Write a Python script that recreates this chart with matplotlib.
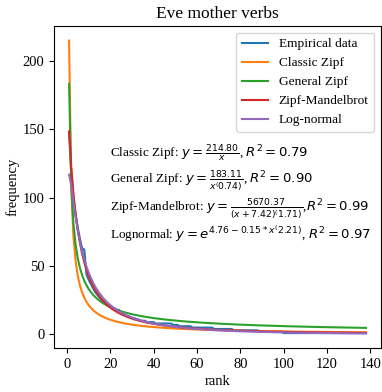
import numpy as np
import matplotlib
matplotlib.use("Agg")
import matplotlib.pyplot as plt

plt.rcParams['font.family'] = ['Liberation Serif', 'DejaVu Serif']
plt.rcParams['mathtext.fontset'] = 'dejavusans'

# Observed frequency by rank (Eve, mother's verb usage)
empirical = [
    148, 118, 100, 88, 78, 70, 63, 62, 44, 40,
    37, 34, 31, 29, 27, 25, 24, 22, 21, 20,
    19, 19, 18, 18, 16, 15, 14, 13, 13, 12,
    12, 11, 11, 10, 10, 10, 9, 9, 9, 9,
    8, 8, 8, 8, 8, 8, 8, 8, 7, 7,
    7, 6, 6, 6, 6, 6, 6, 5, 5, 5,
    5, 5, 5, 5, 5, 5, 5, 4, 4, 4,
    4, 4, 4, 4, 4, 4, 3, 3, 3, 3,
    3, 3, 3, 3, 3, 3, 3, 3, 2, 2,
    2, 2, 2, 2, 2, 2, 2, 2, 2,
] + [1] * 39

# Fitted model parameters
zipf_c = 214.80
gzipf_c, gzipf_a = 183.11, 0.74
zm_c, zm_b, zm_a = 5670.37, 7.42, 1.71
ln_a, ln_b, ln_c = 4.76, 0.15, 2.21
r2 = {"classic": 0.79, "general": 0.90, "zm": 0.99, "lognormal": 0.97}

xticks = [0, 20, 40, 60, 80, 100, 120, 140]
yticks = [0, 50, 100, 150, 200]

rank = np.arange(1, len(empirical) + 1)
classic = zipf_c / rank
general = gzipf_c / rank ** gzipf_a
mandelbrot = zm_c / (rank + zm_b) ** zm_a
lognormal = np.exp(ln_a - ln_b * np.log(rank) ** ln_c)

fig, ax = plt.subplots(figsize=(3.82, 3.92), dpi=100)
ax.plot(rank, empirical, label="Empirical data")
ax.plot(rank, classic, label="Classic Zipf")
ax.plot(rank, general, label="General Zipf")
ax.plot(rank, mandelbrot, label="Zipf-Mandelbrot")
ax.plot(rank, lognormal, label="Log-normal")

fs = 9.5
ax.text(20, 130, r"Classic Zipf: $y = \frac{%.2f}{x}$, $R^2 = %.2f$" % (zipf_c, r2["classic"]), fontsize=fs)
ax.text(20, 110, r"General Zipf: $y = \frac{%.2f}{x^(%.2f)}$, $R^2 = %.2f$" % (gzipf_c, gzipf_a, r2["general"]), fontsize=fs)
ax.text(20, 90, r"Zipf-Mandelbrot: $y = \frac{%.2f}{(x + %.2f)^(%.2f)}$,$R^2 = %.2f$" % (zm_c, zm_b, zm_a, r2["zm"]), fontsize=fs)
ax.text(20, 70, r"Lognormal: $y = e^{%.2f - %.2f * x^(%.2f)}$, $R^2 = %.2f$" % (ln_a, ln_b, ln_c, r2["lognormal"]), fontsize=fs)

ax.set_xticks(xticks)
ax.set_yticks(yticks)
ax.set_title("Eve mother verbs", fontsize=12.5)
ax.set_xlabel("rank", fontsize=10.5, labelpad=3)
ax.set_ylabel("frequency", fontsize=10.5, labelpad=2)
ax.tick_params(labelsize=10.5)
ax.legend(loc="upper right", fontsize=9.6, handlelength=2.0)

fig.subplots_adjust(left=0.142, right=0.997, bottom=0.112, top=0.934)
fig.savefig("out.png", dpi=100)
